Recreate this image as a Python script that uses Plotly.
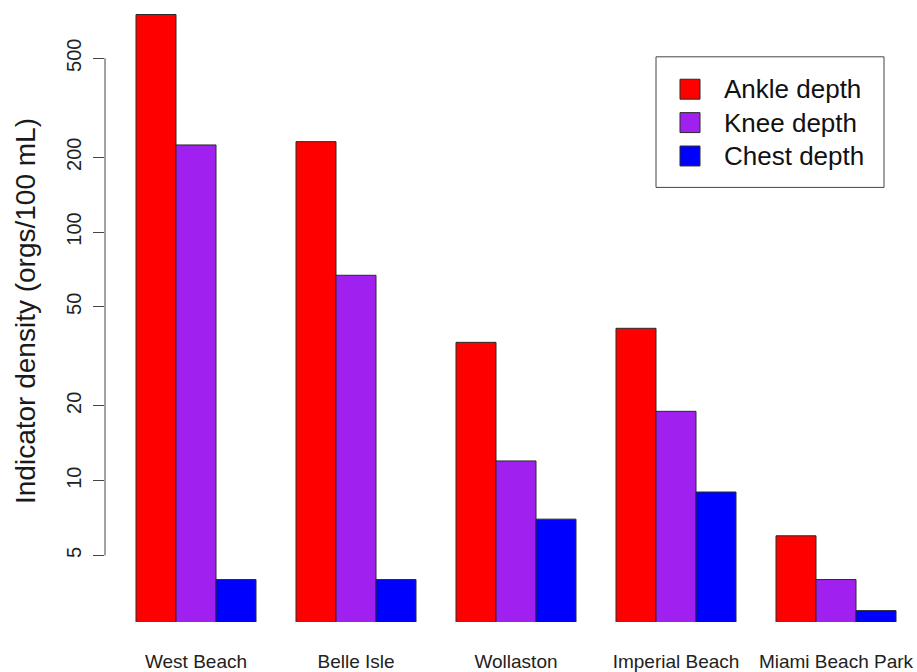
import math
import plotly.graph_objects as go

# Indicator densities by beach and sampling depth (orgs/100 mL)
beaches = ["West Beach", "Belle Isle", "Wollaston", "Imperial Beach", "Miami Beach Park"]
ankle = [750, 231, 36, 41, 6]
knee = [224, 67, 12, 19, 4]
chest = [4, 4, 7, 9, 3]

depth_names = ["Ankle depth", "Knee depth", "Chest depth"]
depth_colors = ["#FF0000", "#A020F0", "#0000FF"]
series = [ankle, knee, chest]

y_ticks = [5, 10, 20, 50, 100, 200, 500]

FONT = "Liberation Sans, Arial, sans-serif"
W, H = 917, 672
M_L, M_R, M_T, M_B = 105, 0, 0, 48
PLOT_W = W - M_L - M_R
PLOT_H = H - M_T - M_B
DECADE_PX = 249.4  # pixels per factor of ten on the density axis

all_vals = ankle + knee + chest
y_lo = math.log10(0.9 * min(all_vals))
y_hi = y_lo + PLOT_H / DECADE_PX

fig = go.Figure()
for name, color, vals in zip(depth_names, depth_colors, series):
    fig.add_trace(go.Bar(
        x=beaches, y=vals, name=name,
        marker=dict(color=color, line=dict(color="#2a2a2a", width=1)),
        showlegend=False,
    ))

fig.update_layout(
    width=W, height=H,
    margin=dict(l=M_L, r=M_R, t=M_T, b=M_B),
    paper_bgcolor="white", plot_bgcolor="white",
    barmode="group", bargap=0.25, bargroupgap=0,
    font=dict(family=FONT, color="#1a1a1a"),
    xaxis=dict(
        range=[-0.56875, len(beaches) - 1 + 0.50625],
        showline=False, showgrid=False, zeroline=False, ticks="",
        tickfont=dict(size=19, color="#222"), ticklabelstandoff=26,
    ),
    yaxis=dict(
        type="log", range=[y_lo, y_hi],
        tickvals=y_ticks, ticktext=[str(v) for v in y_ticks],
        showgrid=False, zeroline=False, showline=False,
        ticks="outside", ticklen=11, tickwidth=1, tickcolor="#444",
        tickangle=-90, tickfont=dict(size=20, color="#222"), ticklabelstandoff=4,
        title=dict(text="Indicator density (orgs/100 mL)", font=dict(size=28), standoff=19),
    ),
)

# axis line spanning the labelled ticks only
fig.add_shape(type="line", xref="paper", yref="y",
              x0=0, x1=0, y0=min(y_ticks), y1=max(y_ticks),
              line=dict(color="#444", width=1))

# legend box drawn in pixel space of the plotting area
def px_x(p):
    return (p - M_L) / PLOT_W

def px_y(p):
    return (H - M_B - p) / PLOT_H

fig.add_shape(type="rect", xref="paper", yref="paper",
              x0=px_x(656), x1=px_x(884), y0=px_y(188), y1=px_y(57),
              line=dict(color="#444", width=1), fillcolor="rgba(0,0,0,0)")
row_y = [89.5, 123, 156.5]
for name, color, cy in zip(depth_names, depth_colors, row_y):
    fig.add_shape(type="rect", xref="paper", yref="paper",
                  x0=px_x(680), x1=px_x(700), y0=px_y(cy + 10), y1=px_y(cy - 10),
                  line=dict(color="#2a2a2a", width=1), fillcolor=color)
    fig.add_annotation(xref="paper", yref="paper", x=px_x(722), y=px_y(cy),
                       text=name, showarrow=False, xanchor="left", yanchor="middle",
                       font=dict(size=26, family=FONT, color="#111"))

fig.write_html("out.html")
